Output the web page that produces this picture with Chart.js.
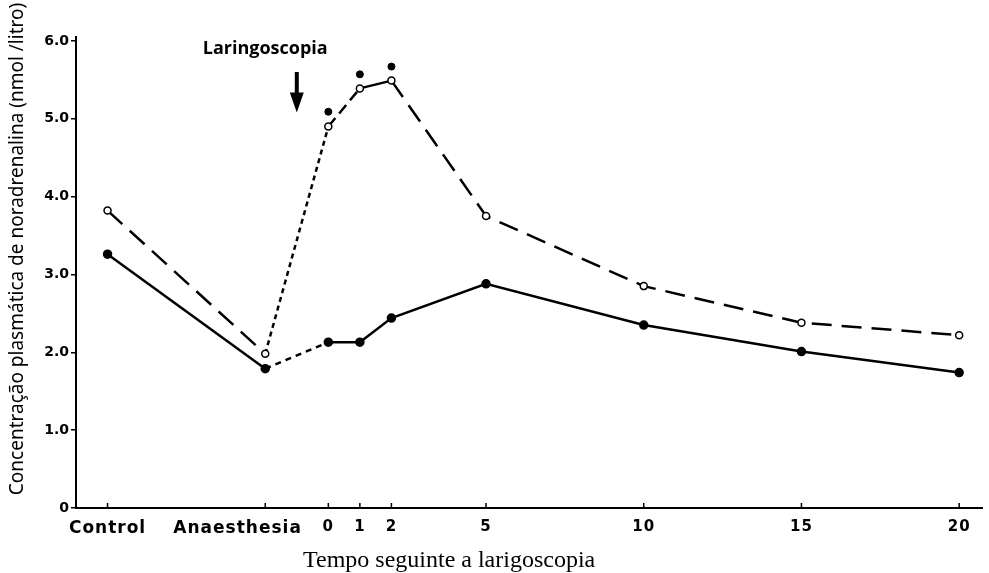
<html>
<head>
  <title>Noradrenalina</title>
  <style>
    body { margin: 0; background: #fff; }
    #wrap { width: 989px; height: 573px; }
  </style>
</head>
<body>
<div id="wrap">
  <canvas id="myChart"></canvas>
</div>

<script src="https://cdn.jsdelivr.net/npm/chart.js"></script>

<script>
  // time points (minutes relative to laryngoscopy; Control and Anaesthesia placed before 0)
  // trailing spaces push the Anaesthesia label left of its tick, as in the original
  const xLabels = ['Control', 'Anaesthesia        ', '0', '1', '2', '5', '10', '15', '20'];
  const xMinutes = [-7, -2, 0, 1, 2, 5, 10, 15, 20];

  // noradrenaline nmol/litro
  const openValues = [3.82, 1.98, 4.90, 5.39, 5.49, 3.75, 2.85, 2.38, 2.22];
  const filledValues = [3.26, 1.79, 2.13, 2.13, 2.44, 2.88, 2.35, 2.01, 1.74];

  // significance marks (*) above the open series
  const starMinutes = [0, 1, 2];
  const starValues = [5.09, 5.57, 5.67];

  const yTicks = [0, 1, 2, 3, 4, 5, 6];
  const yTickLabels = ['0', '1.0', '2.0', '3.0', '4.0', '5.0', '6.0'];

  // dash pattern of each segment (between point i and i+1)
  const openDash = [[20, 10], [5, 4], [11, 6], [], [20, 10], [20, 10], [20, 10], [20, 10]];
  const filledDash = [[], [6, 5], [], [], [], [], [], []];

  const toPoints = (xs, ys) => xs.map((x, i) => ({x: x, y: ys[i]}));

  const ctx = document.getElementById('myChart');

  const extras = {
    id: 'extras',
    afterDatasetsDraw(chart) {
      // x tick labels are drawn after this (ticks.z = 1): widen them a bit
      chart.ctx.letterSpacing = '1px';
    },
    afterDraw(chart) {
      const c = chart.ctx;
      const xs = chart.scales.x, ys = chart.scales.y;
      const area = chart.chartArea;
      c.save();
      c.letterSpacing = '0px';
      c.strokeStyle = '#000';
      c.fillStyle = '#000';

      // small inward tick marks on the x axis
      c.lineWidth = 1.5;
      xMinutes.forEach(m => {
        const px = xs.getPixelForValue(m);
        c.beginPath();
        c.moveTo(px, area.bottom);
        c.lineTo(px, area.bottom - 5);
        c.stroke();
      });

      // arrow marking laryngoscopy
      const ax = xs.getPixelForValue(-1);
      const aTop = ys.getPixelForValue(5.6);
      const aTip = ys.getPixelForValue(5.08);
      c.lineWidth = 4;
      c.beginPath();
      c.moveTo(ax, aTop);
      c.lineTo(ax, aTip - 16);
      c.stroke();
      c.beginPath();
      c.moveTo(ax - 7, aTip - 20);
      c.lineTo(ax + 7, aTip - 20);
      c.lineTo(ax, aTip);
      c.closePath();
      c.fill();

      c.font = 'bold 18px "Open Sans"';
      c.textAlign = 'center';
      c.textBaseline = 'middle';
      c.fillText('Laringoscopia', xs.getPixelForValue(-2), ys.getPixelForValue(5.9));

      // axis titles
      c.font = '24px "Liberation Serif"';
      c.textAlign = 'left';
      c.textBaseline = 'alphabetic';
      c.fillText('Tempo seguinte a larigoscopia', area.left + 227, area.bottom + 59);

      c.translate(18, 249);
      c.rotate(-Math.PI / 2);
      c.font = '19px "Noto Sans"';
      c.textAlign = 'center';
      c.textBaseline = 'middle';
      c.fillText('Concentração plasmática de noradrenalina (nmol /litro)', 0, 0);
      c.restore();
    }
  };

  new Chart(ctx, {
    type: 'line',
    data: {
      datasets: [
        {
          label: 'open',
          data: toPoints(xMinutes, openValues),
          borderColor: '#000',
          borderWidth: 2.5,
          pointRadius: 3.5,
          pointBorderWidth: 1.5,
          pointBackgroundColor: '#fff',
          pointBorderColor: '#000',
          segment: { borderDash: c => openDash[c.p0DataIndex] },
          fill: false
        },
        {
          label: 'filled',
          data: toPoints(xMinutes, filledValues),
          borderColor: '#000',
          borderWidth: 2.5,
          pointRadius: 3.5,
          pointBackgroundColor: '#000',
          pointBorderColor: '#000',
          segment: { borderDash: c => filledDash[c.p0DataIndex] },
          fill: false
        },
        {
          label: 'star',
          data: toPoints(starMinutes, starValues),
          showLine: false,
          pointRadius: 3.5,
          pointBackgroundColor: '#000',
          pointBorderColor: '#000'
        }
      ]
    },
    options: {
      responsive: true,
      maintainAspectRatio: false,
      animation: false,
      layout: { padding: { top: 37, right: 0, left: 0, bottom: 0 } },
      plugins: { legend: { display: false }, tooltip: { enabled: false } },
      scales: {
        x: {
          type: 'linear',
          min: -8,
          max: 20.74,
          afterBuildTicks: s => { s.ticks = xMinutes.map(v => ({value: v})); },
          afterFit: s => { s.height = 65; },
          grid: { display: false },
          border: { display: true, color: '#000', width: 2 },
          ticks: {
            z: 1,
            autoSkip: false,
            maxRotation: 0,
            padding: 2,
            color: '#000',
            font: c => ({ family: 'DejaVu Sans', size: c.index < 2 ? 17 : 15, weight: 'bold' }),
            callback: (v, i) => xLabels[i]
          }
        },
        y: {
          min: 0,
          max: 6.05,
          afterBuildTicks: s => { s.ticks = yTicks.map(v => ({value: v})); },
          afterFit: s => { s.width = 76; },
          grid: { drawOnChartArea: false, drawTicks: true, tickLength: 5, color: '#000', lineWidth: 1.5 },
          border: { display: true, color: '#000', width: 2 },
          ticks: {
            padding: 2,
            color: '#000',
            font: { family: 'DejaVu Sans', size: 14, weight: 'bold' },
            callback: (v, i) => yTickLabels[i]
          }
        }
      }
    },
    plugins: [extras]
  });
</script>

</body>
</html>
